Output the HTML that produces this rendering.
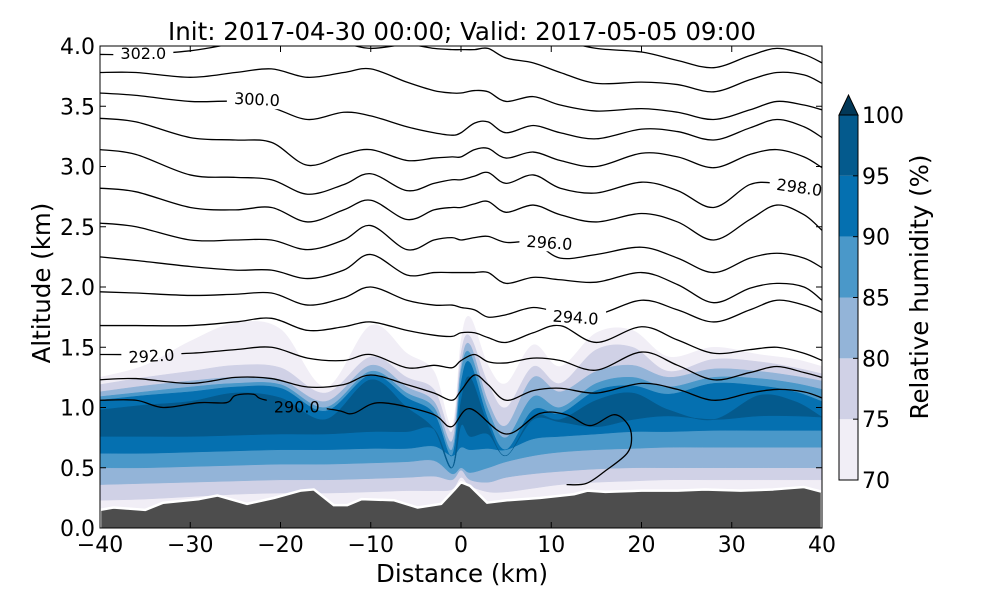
<!DOCTYPE html>
<html><head><meta charset="utf-8"><style>
body{margin:0;background:#fff;}
svg{display:block;font-family:"DejaVu Sans","Liberation Sans",sans-serif;}
</style></head><body>
<svg id="chart" width="1000" height="600" viewBox="0 0 1000 600">
<rect width="1000" height="600" fill="#fff"/>
<defs>
<clipPath id="plotClip"><rect x="100" y="46" width="722" height="482"/></clipPath>
<mask id="labelMask" maskUnits="userSpaceOnUse" x="0" y="0" width="1000" height="600"><rect x="0" y="0" width="1000" height="600" fill="#fff"/><g id="maskHoles"></g></mask>
</defs>
<g id="plot" clip-path="url(#plotClip)">
<g id="fills"></g>
<g id="lines" mask="url(#labelMask)"></g>
<g id="labels"></g>
</g>
<g id="axes"></g>
<g id="cbar"></g>
<text x="462" y="40" font-size="24.5" text-anchor="middle">Init: 2017-04-30 00:00; Valid: 2017-05-05 09:00</text>
<text x="462" y="582" font-size="24.5" text-anchor="middle">Distance (km)</text>
<text x="0" y="0" font-size="24.5" text-anchor="middle" transform="translate(50,283) rotate(-90)">Altitude (km)</text>
<text x="0" y="0" font-size="24.5" text-anchor="middle" transform="translate(928,287) rotate(-90)">Relative humidity (%)</text>
</svg>
<script>
// ---- data ----
const terrX=[-40,-38.5,-35,-33,-29,-27,-23.7,-20.7,-17.8,-16.3,-14.1,-12.6,-11,-7.4,-4.8,-2.2,-0.7,0,1,2.9,5.1,8.8,12.5,14,16,20,24,27,31,34.6,38,40];
const terrH=[0.15,0.17,0.15,0.21,0.24,0.27,0.20,0.25,0.31,0.32,0.19,0.19,0.24,0.23,0.17,0.20,0.32,0.38,0.35,0.21,0.23,0.25,0.28,0.31,0.30,0.31,0.31,0.32,0.31,0.32,0.34,0.30];

const rhX=[-40,-35,-30,-25,-20,-15,-10,-6,-3,-1,0,1,3,5,8,11,15,19,23,28,33,37,40];
const rhLevels=[70,75,80,85,90,95];
const rhTop70=[1.25,1.35,1.55,1.70,1.65,1.17,1.68,1.45,1.30,0.85,1.55,1.75,1.35,1.20,1.52,1.34,1.62,1.64,1.42,1.50,1.44,1.40,1.34];
const rhTop75=[1.19,1.25,1.30,1.35,1.33,1.12,1.42,1.25,1.15,0.80,1.45,1.59,1.20,1.00,1.34,1.20,1.48,1.50,1.30,1.40,1.38,1.33,1.28];
const rhTop80=[1.13,1.18,1.22,1.25,1.23,1.05,1.35,1.17,1.05,0.72,1.35,1.52,1.05,0.85,1.25,1.13,1.30,1.35,1.25,1.32,1.30,1.26,1.22];
const rhTop85=[1.09,1.13,1.17,1.20,1.19,1.00,1.30,1.12,1.00,0.65,1.30,1.45,0.98,0.75,1.09,1.00,1.20,1.25,1.17,1.25,1.24,1.20,1.15];
const rhTop90=[1.06,1.10,1.13,1.17,1.16,0.97,1.27,1.08,0.95,0.55,1.20,1.37,0.90,0.65,0.98,0.95,1.14,1.18,1.11,1.20,1.18,1.13,1.05];
const rhTop95=[0.98,1.02,1.05,1.12,1.08,0.90,1.23,1.00,0.82,0.50,1.05,1.25,0.85,0.60,0.93,0.90,1.06,1.12,0.98,0.90,1.10,1.05,0.92];
const rhBot70=[0,0,0,0,0,0,0,0,0,0,0,0,0,0,0,0,0,0,0,0,0,0,0];
const rhBot75=[0.23,0.24,0.26,0.28,0.29,0.29,0.30,0.31,0.31,0.32,0.42,0.35,0.30,0.30,0.33,0.36,0.38,0.39,0.40,0.40,0.40,0.40,0.40];
const rhBot80=[0.36,0.37,0.38,0.39,0.40,0.40,0.41,0.42,0.43,0.40,0.48,0.40,0.38,0.42,0.45,0.47,0.49,0.50,0.50,0.50,0.50,0.50,0.50];
const rhBot85=[0.50,0.50,0.51,0.52,0.53,0.53,0.54,0.55,0.56,0.45,0.50,0.46,0.50,0.55,0.60,0.63,0.65,0.66,0.67,0.67,0.67,0.67,0.67];
const rhBot90=[0.62,0.62,0.63,0.64,0.65,0.65,0.66,0.66,0.68,0.60,0.67,0.65,0.66,0.65,0.74,0.76,0.78,0.80,0.80,0.81,0.81,0.81,0.81];
const rhBot95=[0.76,0.76,0.76,0.77,0.78,0.78,0.80,0.80,0.82,0.50,0.85,0.76,0.78,0.60,0.90,0.88,0.84,0.90,0.93,0.90,0.93,0.93,0.92];

const thX=[-40,-36,-30,-25,-21,-17,-13,-10,-6,-3,-1,0,1.5,3,5,8,11,15,20,24,28,32,35,38,40];
const th303=[4.15,4.15,4.15,4.15,4.15,4.15,4.15,4.15,4.15,4.15,4.15,4.15,4.15,4.15,4.15,4.12,4.05,3.98,3.95,3.88,3.82,3.92,3.98,3.93,3.86];
const th302=[3.93,3.93,3.96,4.02,4.04,4.05,4.02,3.98,4.01,3.98,3.97,3.97,3.97,3.98,3.90,3.86,3.78,3.69,3.70,3.68,3.62,3.72,3.78,3.76,3.69];
const th301=[3.78,3.78,3.74,3.78,3.81,3.74,3.78,3.81,3.70,3.63,3.61,3.61,3.63,3.62,3.54,3.58,3.51,3.46,3.48,3.45,3.39,3.47,3.54,3.51,3.47];
const th300=[3.61,3.59,3.54,3.54,3.49,3.39,3.45,3.42,3.33,3.28,3.26,3.28,3.36,3.37,3.28,3.34,3.28,3.23,3.31,3.29,3.22,3.32,3.39,3.33,3.24];
const th299=[3.40,3.37,3.24,3.22,3.20,3.01,3.10,3.14,3.05,3.07,3.08,3.08,3.14,3.15,3.07,3.12,3.05,3.00,3.11,3.08,2.99,3.10,3.14,3.08,2.99];
const th298=[3.14,3.10,2.93,2.91,2.89,2.77,2.85,2.94,2.80,2.86,2.89,2.89,2.92,2.95,2.86,2.93,2.82,2.78,2.87,2.80,2.66,2.85,2.86,2.83,2.85];
const th297=[2.82,2.79,2.66,2.64,2.66,2.54,2.64,2.72,2.56,2.64,2.66,2.66,2.69,2.71,2.62,2.68,2.60,2.54,2.61,2.54,2.39,2.56,2.68,2.60,2.47];
const th296=[2.53,2.50,2.39,2.39,2.39,2.31,2.39,2.51,2.31,2.39,2.41,2.39,2.41,2.42,2.37,2.37,2.24,2.27,2.33,2.24,2.12,2.24,2.28,2.24,2.16];
const th295=[2.25,2.22,2.17,2.14,2.14,2.07,2.14,2.27,2.10,2.12,2.12,2.12,2.12,2.12,2.03,2.08,2.06,2.04,2.12,2.02,1.87,1.99,2.03,2.00,1.89];
const th294=[1.96,1.95,1.93,1.94,1.95,1.85,1.91,2.00,1.89,1.85,1.85,1.83,1.81,1.75,1.77,1.83,1.79,1.77,1.89,1.81,1.71,1.81,1.89,1.85,1.79];
const th293=[1.68,1.68,1.68,1.71,1.74,1.64,1.67,1.71,1.64,1.60,1.59,1.62,1.62,1.58,1.54,1.62,1.68,1.54,1.67,1.56,1.45,1.48,1.50,1.45,1.39];
const th292=[1.44,1.44,1.45,1.48,1.50,1.41,1.39,1.44,1.33,1.35,1.33,1.39,1.44,1.38,1.37,1.41,1.39,1.31,1.46,1.35,1.23,1.29,1.34,1.29,1.25];
const th291=[1.23,1.24,1.20,1.25,1.24,1.17,1.19,1.27,1.19,1.12,1.06,1.14,1.27,1.19,1.06,1.14,1.16,1.12,1.20,1.15,1.06,1.12,1.15,1.13,1.08];
const th290X=[-40,-36,-33,-29,-26,-25,-23,-21.5,-14,-12,-9,-3.3,-1.1,1,5,8.7,11.7,14.3,16.9,18.4,18.9,18.4,16.1,13.9,11.7];
const th290H=[1.06,1.06,1.00,1.04,1.04,1.10,1.11,1.06,0.98,0.95,1.04,0.95,0.84,0.99,0.78,0.95,0.94,0.85,0.94,0.87,0.75,0.62,0.48,0.37,0.36];

const labelText=["302.0","300.0","298.0","296.0","294.0","292.0","290.0"];
const labelDist=[-35.2,-22.6,37.5,9.8,12.7,-34.3,-18.2];
const labelAlt=[3.94,3.56,2.83,2.37,1.75,1.43,1.01];
const labelRot=[0,3,8,4,4,-3,0];

const xTicks=[-40,-30,-20,-10,0,10,20,30,40];
const yTicks=[0,0.5,1,1.5,2,2.5,3,3.5,4];
const cbTicks=[70,75,80,85,90,95,100];
const rhColors=["#f1eef6","#d0d1e6","#93b4d8","#4a98c9","#0570b0","#045a8d"];

// ---- scales ----
const X0=100,X1=822,Y0=528,Y1=46;
const sx=d=>X0+(d+40)/80*(X1-X0);
const sy=h=>Y0-h/4*(Y0-Y1);
const NS="http://www.w3.org/2000/svg";
function mk(tag,attrs,parent){const e=document.createElementNS(NS,tag);for(const k in attrs)e.setAttribute(k,attrs[k]);parent.appendChild(e);return e;}
function smooth(pts,start){
  let d=start?`M${pts[0][0]},${pts[0][1]}`:`L${pts[0][0]},${pts[0][1]}`;
  for(let i=0;i<pts.length-1;i++){
    const p0=pts[Math.max(0,i-1)],p1=pts[i],p2=pts[i+1],p3=pts[Math.min(pts.length-1,i+2)];
    const t=0.5/3;
    d+=` C${p1[0]+(p2[0]-p0[0])*t},${p1[1]+(p2[1]-p0[1])*t} ${p2[0]-(p3[0]-p1[0])*t},${p2[1]-(p3[1]-p1[1])*t} ${p2[0]},${p2[1]}`;
  }
  return d;
}
const fills=document.getElementById('fills'),lines=document.getElementById('lines'),labels=document.getElementById('labels');
const holes=document.getElementById('maskHoles');
const axes=document.getElementById('axes'),cbar=document.getElementById('cbar');

// RH bands
const tops=[rhTop70,rhTop75,rhTop80,rhTop85,rhTop90,rhTop95];
const bots=[rhBot70,rhBot75,rhBot80,rhBot85,rhBot90,rhBot95];
for(let i=0;i<rhLevels.length;i++){
  const up=rhX.map((d,j)=>[sx(d),sy(Math.max(tops[i][j],bots[i][j]))]);
  const dn=rhX.map((d,j)=>[sx(d),sy(bots[i][j])]).reverse();
  const p=mk('path',{d:smooth(up,true)+' '+smooth(dn,false)+' Z',fill:rhColors[i],stroke:rhColors[i],'stroke-width':0.5},fills);
  
  
}
// terrain
{
  let pts=terrX.map((d,j)=>sx(d)+','+sy(terrH[j]));
  pts.push(sx(40)+','+(Y0+5));pts.push(sx(-40)+','+(Y0+5));
  const t=mk('polygon',{points:pts.join(' '),fill:'#4d4d4d',stroke:'#fff','stroke-width':2.5,'stroke-linejoin':'round'},fills);
  
  
}
// theta contours
const thLines=[th303,th302,th301,th300,th299,th298,th297,th296,th295,th294,th293,th292,th291];
const thVals=[303,302,301,300,299,298,297,296,295,294,293,292,291];
thLines.forEach((arr,i)=>{
  const l=mk('path',{d:smooth(thX.map((d,j)=>[sx(d),sy(arr[j])]),true),fill:'none',stroke:'#000','stroke-width':1.3},lines);
  
  
});
{
  const l=mk('path',{d:smooth(th290X.map((d,j)=>[sx(d),sy(th290H[j])]),true),fill:'none',stroke:'#000','stroke-width':1.3},lines);
  
  
}
// contour labels
labelText.forEach((s,i)=>{
  const x=sx(labelDist[i]),y=sy(labelAlt[i]);
  const tr=`translate(${x},${y}) rotate(${labelRot[i]})`;
  mk('rect',{x:-30,y:-9,width:60,height:18,fill:'#000',transform:tr},holes);
  const t=mk('text',{x:0,y:6,'font-size':16,'text-anchor':'middle',fill:'#000',transform:tr},labels);
  
  
  t.textContent=s;
});
// frame
{
  const f=mk('rect',{x:X0,y:Y1,width:X1-X0,height:Y0-Y1,fill:'none',stroke:'#000','stroke-width':1},axes);
  
  
}
xTicks.forEach(v=>{
  const x=sx(v);
  mk('line',{x1:x,y1:Y0,x2:x,y2:Y0-6,stroke:'#000'},axes);
  mk('line',{x1:x,y1:Y1,x2:x,y2:Y1+6,stroke:'#000'},axes);
  const t=mk('text',{x:x,y:Y0+24,'font-size':22,'text-anchor':'middle'},axes);
  
  
  t.textContent=v<0?'\u2212'+(-v):String(v);
});
yTicks.forEach(v=>{
  const y=sy(v);
  mk('line',{x1:X0,y1:y,x2:X0+6,y2:y,stroke:'#000'},axes);
  mk('line',{x1:X1,y1:y,x2:X1-6,y2:y,stroke:'#000'},axes);
  const t=mk('text',{x:X0-5,y:y+8,'font-size':22,'text-anchor':'end'},axes);
  
  
  t.textContent=v.toFixed(1);
});
// colorbar
const CB0=480,CB1=115,CX0=839,CX1=858;
const cy=v=>CB0-(v-70)/30*(CB0-CB1);
for(let i=0;i<rhLevels.length;i++){
  const r=mk('rect',{x:CX0,y:cy(rhLevels[i]+5),width:CX1-CX0,height:cy(rhLevels[i])-cy(rhLevels[i]+5),fill:rhColors[i]},cbar);
  
  
}
{
  const tri=mk('polygon',{points:`${CX0},${CB1} ${(CX0+CX1)/2},95 ${CX1},${CB1}`,fill:'#023858',stroke:'#000','stroke-width':1},cbar);
  
  
  mk('polyline',{points:`${CX0},${CB1} ${CX0},${CB0} ${CX1},${CB0} ${CX1},${CB1}`,fill:'none',stroke:'#000','stroke-width':1},cbar);
}
cbTicks.forEach(v=>{
  const y=cy(v);
  mk('line',{x1:CX1,y1:y,x2:CX1-5,y2:y,stroke:'#000'},cbar);
  const t=mk('text',{x:CX1+4,y:y+8,'font-size':22},cbar);
  
  
  t.textContent=String(v);
});
</script>
</body></html>
